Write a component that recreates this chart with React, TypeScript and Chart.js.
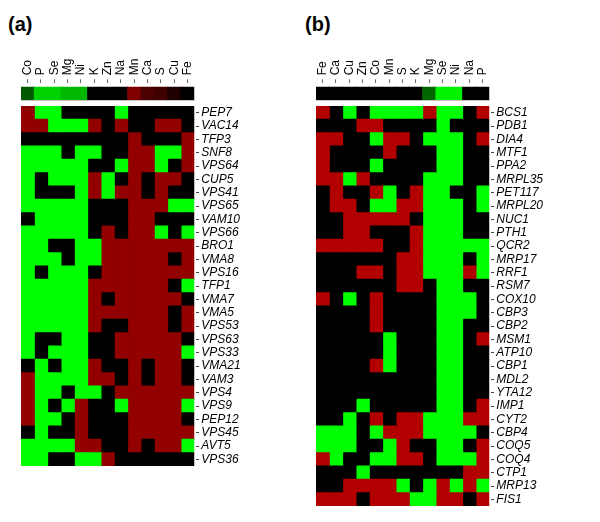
import React, { useEffect, useRef } from "react";
import { Chart, registerables } from "chart.js";

Chart.register(...registerables);
Chart.defaults.font.family = "'Liberation Sans', Arial, Helvetica, sans-serif";

// ---------- Panel (a) ----------
const colsA = ["Co", "P", "Se", "Mg", "Ni", "K", "Zn", "Na", "Mn", "Ca", "S", "Cu", "Fe"];
// summary bar: negative = green, positive = red, 0 = black
const headerA = [-0.35, -0.82, -0.82, -0.72, -0.72, 0, 0, 0, 0.5, 0.3, 0.25, 0.12, 0];
const rowsA = [
  "PEP7", "VAC14", "TFP3", "SNF8", "VPS64", "CUP5", "VPS41", "VPS65", "VAM10",
  "VPS66", "BRO1", "VMA8", "VPS16", "TFP1", "VMA7", "VMA5", "VPS53", "VPS63",
  "VPS33", "VMA21", "VAM3", "VPS4", "VPS9", "PEP12", "VPS45", "AVT5", "VPS36",
];
// "+" = up (red), "-" = down (green), "0" = no change (black); one char per column
const cellsA = [
  "+--0000-00000",
  "++---+0+00++0",
  "00000000+000+",
  "---0--00++--+",
  "-----00-++-0+",
  "-0---+-0+0++0",
  "-000-+-++0+00",
  "-----000+++--",
  "0----000++000",
  "-----0+0++-0-",
  "--00--+++++++",
  "---0--+++++0+",
  "-0---0+++++++",
  "-----++++++0-",
  "-----+0+++++0",
  "-----++++++0+",
  "-----+00+++0+",
  "-00--00+++++0",
  "-0---00+++++-",
  "0-0--+00+0++0",
  "+----++0+0++0",
  "+--0--0++++++",
  "+-0-+00-++++-",
  "+--0+000++++0",
  "0-00+000+++++",
  "----++00+0++-",
  "--00--+000000",
];

// ---------- Panel (b) ----------
const colsB = ["Fe", "Ca", "Cu", "Zn", "Co", "Mn", "S", "K", "Mg", "Se", "Ni", "Na", "P"];
const headerB = [0, 0, 0, 0, 0, 0, 0, 0, -0.4, -0.95, -0.95, 0, 0];
const rowsB = [
  "BCS1", "PDB1", "DIA4", "MTF1", "PPA2", "MRPL35", "PET117", "MRPL20", "NUC1",
  "PTH1", "QCR2", "MRP17", "RRF1", "RSM7", "COX10", "CBP3", "CBP2", "MSM1",
  "ATP10", "CBP1", "MDL2", "YTA12", "IMP1", "CYT2", "CBP4", "COQ5", "COQ4",
  "CTP1", "MRP13", "FIS1",
];
const cellsB = [
  "+0-0----+--0+",
  "000++0000-000",
  "++00-++0---0+",
  "+0000+000--00",
  "+000-0000--00",
  "++-+0000---00",
  "0+00+-0+--00-",
  "0++0--++---0-",
  "00+++++0---00",
  "00++000+---00",
  "+++++00+-----",
  "000000++---0-",
  "000++0++---+-",
  "000000++0--00",
  "+0-0+0000---0",
  "0000+0000---0",
  "0000+0000--00",
  "00000-000--0+",
  "00000-000--00",
  "0000+-000--00",
  "000000000--00",
  "000000000--00",
  "000-00000--0+",
  "00-0+0++---++",
  "---0-+++----0",
  "---00-+00--0+",
  "+-00--++0---+",
  "000-0000000++",
  "00++++-0-+-+-",
  "+++0+++--++0+",
];

const GREEN = "#00ff00";

function headerColor(v: number): string {
  if (v > 0) return `rgb(${Math.round(v * 255)},0,0)`;
  if (v < 0) return `rgb(0,${Math.round(-v * 255)},0)`;
  return "#000000";
}

function cellColor(ch: string, red: string): string {
  if (ch === "+") return red;
  if (ch === "-") return GREEN;
  return "#000000";
}

type PanelProps = {
  left: number;
  cols: string[];
  header: number[];
  rows: string[];
  cells: string[];
  red: string;
  plotLeft: number;
  plotRight: number;
  plotBottom: number;
};

const W = 300;
const H = 522;
const AXIS_TOP_H = 83.3; // top axis band height (chart area starts here)
const BAR_SCALE_MAX = 1.315; // leaves a small gap above the summary bar
const HEAT_TOP = 106;

function Panel(p: PanelProps) {
  const barRef = useRef<HTMLCanvasElement | null>(null);
  const heatRef = useRef<HTMLCanvasElement | null>(null);

  useEffect(() => {
    const barChart = new Chart(barRef.current as HTMLCanvasElement, {
      type: "bar",
      data: {
        labels: p.cols,
        datasets: [
          {
            data: p.cols.map(() => 1),
            backgroundColor: p.header.map(headerColor),
            borderWidth: 0,
            barPercentage: 1,
            categoryPercentage: 1,
            inflateAmount: 0.5,
          } as any,
        ],
      },
      options: {
        animation: false,
        responsive: false,
        events: [],
        layout: { padding: { left: p.plotLeft, right: W - p.plotRight, top: 0, bottom: 0 } },
        plugins: { legend: { display: false }, tooltip: { enabled: false } },
        scales: {
          x: {
            type: "category",
            position: "top",
            offset: true,
            grid: {
              display: true,
              drawOnChartArea: false,
              offset: false,
              drawTicks: true,
              tickLength: 4,
              tickColor: "#666",
              tickWidth: 1,
            },
            border: { display: false },
            ticks: {
              autoSkip: false,
              minRotation: 90,
              maxRotation: 90,
              padding: 4,
              labelOffset: 14.4,
              color: "#000",
              font: { size: 12 },
            },
            afterFit: (s: any) => {
              s.height = AXIS_TOP_H;
            },
          },
          xb: {
            type: "category",
            position: "bottom",
            labels: p.cols,
            grid: { display: false },
            ticks: { display: false },
            border: { display: true, color: "#c8c8c8", width: 1 },
            afterFit: (s: any) => {
              s.height = 2;
            },
          },
          y: { display: false, min: 0, max: BAR_SCALE_MAX },
        },
      } as any,
    });

    const heatChart = new Chart(heatRef.current as HTMLCanvasElement, {
      type: "bar",
      data: {
        labels: p.rows,
        datasets: p.cols.map((c, j) => ({
          label: c,
          data: p.rows.map(() => 1),
          backgroundColor: p.cells.map((r) => cellColor(r[j], p.red)),
          borderWidth: 0,
          barPercentage: 1,
          categoryPercentage: 1,
          inflateAmount: 0.5,
        })) as any,
      },
      options: {
        indexAxis: "y",
        animation: false,
        responsive: false,
        events: [],
        layout: { padding: { left: p.plotLeft, top: HEAT_TOP, bottom: H - p.plotBottom, right: 0 } },
        plugins: { legend: { display: false }, tooltip: { enabled: false } },
        scales: {
          x: { type: "linear", stacked: true, display: false, min: 0, max: p.cols.length },
          y: {
            type: "category",
            position: "right",
            stacked: true,
            offset: true,
            grid: {
              display: true,
              drawOnChartArea: false,
              offset: false,
              drawTicks: true,
              tickLength: 5,
              tickColor: "#444",
              tickWidth: 1,
              tickBorderDash: [0, 2, 3, 10],
            },
            border: { display: false },
            ticks: {
              autoSkip: false,
              padding: 2,
              color: "#000",
              font: { size: 12, style: "italic" },
            },
            afterFit: (s: any) => {
              s.width = W - p.plotRight;
            },
          },
        },
      } as any,
    });

    return () => {
      barChart.destroy();
      heatChart.destroy();
    };
  }, []);

  return (
    <>
      <canvas
        ref={heatRef}
        width={W}
        height={H}
        style={{ position: "absolute", left: p.left, top: 0, width: W, height: H }}
      />
      <canvas
        ref={barRef}
        width={W}
        height={102}
        style={{ position: "absolute", left: p.left, top: 0, width: W, height: 102 }}
      />
    </>
  );
}

const titleStyle: React.CSSProperties = {
  position: "absolute",
  top: 14,
  fontFamily: "'Liberation Sans', Arial, Helvetica, sans-serif",
  fontWeight: "bold",
  fontSize: 20,
  lineHeight: "20px",
  color: "#000",
};

export default function App() {
  return (
    <div
      style={{
        position: "absolute",
        left: 0,
        top: 0,
        width: 600,
        height: 522,
        background: "#fff",
        overflow: "hidden",
      }}
    >
      <div style={{ ...titleStyle, left: 8 }}>(a)</div>
      <div style={{ ...titleStyle, left: 305 }}>(b)</div>
      <Panel
        left={0}
        cols={colsA}
        header={headerA}
        rows={rowsA}
        cells={cellsA}
        red="#920000"
        plotLeft={21}
        plotRight={194.3}
        plotBottom={466}
      />
      <Panel
        left={300}
        cols={colsB}
        header={headerB}
        rows={rowsB}
        cells={cellsB}
        red="#b20000"
        plotLeft={16}
        plotRight={189.3}
        plotBottom={506}
      />
    </div>
  );
}
